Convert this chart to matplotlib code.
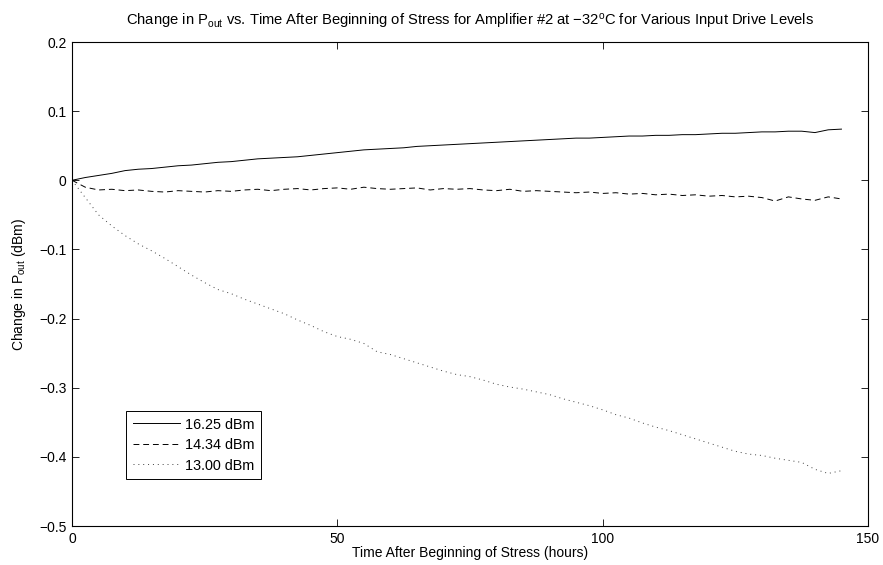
import numpy as np
import matplotlib.pyplot as plt

plt.rcParams['font.family'] = ['Liberation Sans', 'DejaVu Sans']
plt.rcParams['mathtext.fontset'] = 'custom'
plt.rcParams['mathtext.rm'] = 'Liberation Sans'
plt.rcParams['mathtext.it'] = 'Liberation Sans'
plt.rcParams['font.size'] = 10

# Time after beginning of stress (hours)
hours = np.arange(0, 145.1, 2.5)

# Change in Pout (dBm) for each input drive level
drive_1625 = [0.000, 0.004, 0.007, 0.010, 0.014, 0.016, 0.017, 0.019, 0.021, 0.022,
              0.024, 0.026, 0.027, 0.029, 0.031, 0.032, 0.033, 0.034, 0.036, 0.038,
              0.040, 0.042, 0.044, 0.045, 0.046, 0.047, 0.049, 0.050, 0.051, 0.052,
              0.053, 0.054, 0.055, 0.056, 0.057, 0.058, 0.059, 0.060, 0.061, 0.061,
              0.062, 0.063, 0.064, 0.064, 0.065, 0.065, 0.066, 0.066, 0.067, 0.068,
              0.068, 0.069, 0.070, 0.070, 0.071, 0.071, 0.069, 0.073, 0.074]
drive_1434 = [0.000, -0.010, -0.014, -0.013, -0.015, -0.014, -0.016, -0.017, -0.015, -0.016,
              -0.017, -0.015, -0.016, -0.014, -0.013, -0.015, -0.013, -0.012, -0.014, -0.012,
              -0.011, -0.013, -0.010, -0.012, -0.013, -0.012, -0.011, -0.014, -0.012, -0.013,
              -0.012, -0.014, -0.015, -0.013, -0.016, -0.015, -0.016, -0.017, -0.018, -0.017,
              -0.019, -0.018, -0.020, -0.019, -0.021, -0.020, -0.022, -0.021, -0.023, -0.022,
              -0.024, -0.023, -0.025, -0.030, -0.024, -0.027, -0.029, -0.024, -0.027]
drive_1300 = [0.000, -0.025, -0.050, -0.066, -0.080, -0.092, -0.102, -0.113, -0.125, -0.137,
              -0.148, -0.158, -0.164, -0.172, -0.179, -0.186, -0.193, -0.202, -0.210, -0.219,
              -0.226, -0.230, -0.236, -0.248, -0.252, -0.258, -0.264, -0.270, -0.276, -0.281,
              -0.284, -0.289, -0.295, -0.299, -0.302, -0.306, -0.310, -0.316, -0.321, -0.326,
              -0.332, -0.339, -0.344, -0.351, -0.357, -0.362, -0.368, -0.374, -0.380, -0.386,
              -0.392, -0.396, -0.398, -0.402, -0.405, -0.408, -0.418, -0.424, -0.420]

fig = plt.figure(figsize=(8.83, 5.65), dpi=100)
ax = fig.add_axes([72/883, 1 - 526/565, 796/883, 484/565])

ax.plot(hours, drive_1625, 'k-', lw=0.7, label='16.25 dBm')
ax.plot(hours, drive_1434, 'k--', lw=0.7, dashes=(6, 4), label='14.34 dBm')
ax.plot(hours, drive_1300, ':', color='0.25', lw=0.7, dashes=(1, 4), label='13.00 dBm')

ax.set_xlim(0, 150)
ax.set_ylim(-0.5, 0.2)
ax.set_xticks([0, 50, 100, 150])
ax.set_yticks(np.arange(-0.5, 0.21, 0.1))
ax.set_yticklabels(['\u22120.5', '\u22120.4', '\u22120.3', '\u22120.2', '\u22120.1', '0', '0.1', '0.2'])
ax.tick_params(direction='in', top=True, right=True, length=5, width=0.6, labelsize=10, pad=4)
for s in ax.spines.values():
    s.set_linewidth(0.8)

ax.set_title(r'Change in P$_{\rm out}$ vs. Time After Beginning of Stress for Amplifier #2 at $-$32$^{\rm o}$C for Various Input Drive Levels',
             fontsize=10.6, pad=12)
ax.set_xlabel('Time After Beginning of Stress (hours)', fontsize=10, labelpad=0)
ax.set_ylabel(r'Change in P$_{\rm out}$ (dBm)', fontsize=10, labelpad=8)

leg = ax.legend(loc='lower left', bbox_to_anchor=(0.068, 0.097), borderaxespad=0,
                fancybox=False, edgecolor='k', framealpha=1, fontsize=10.4,
                handlelength=3.3, handletextpad=0.3, labelspacing=0.45, borderpad=0.45)
leg.get_frame().set_linewidth(0.7)

plt.savefig('out.png', dpi=100)
